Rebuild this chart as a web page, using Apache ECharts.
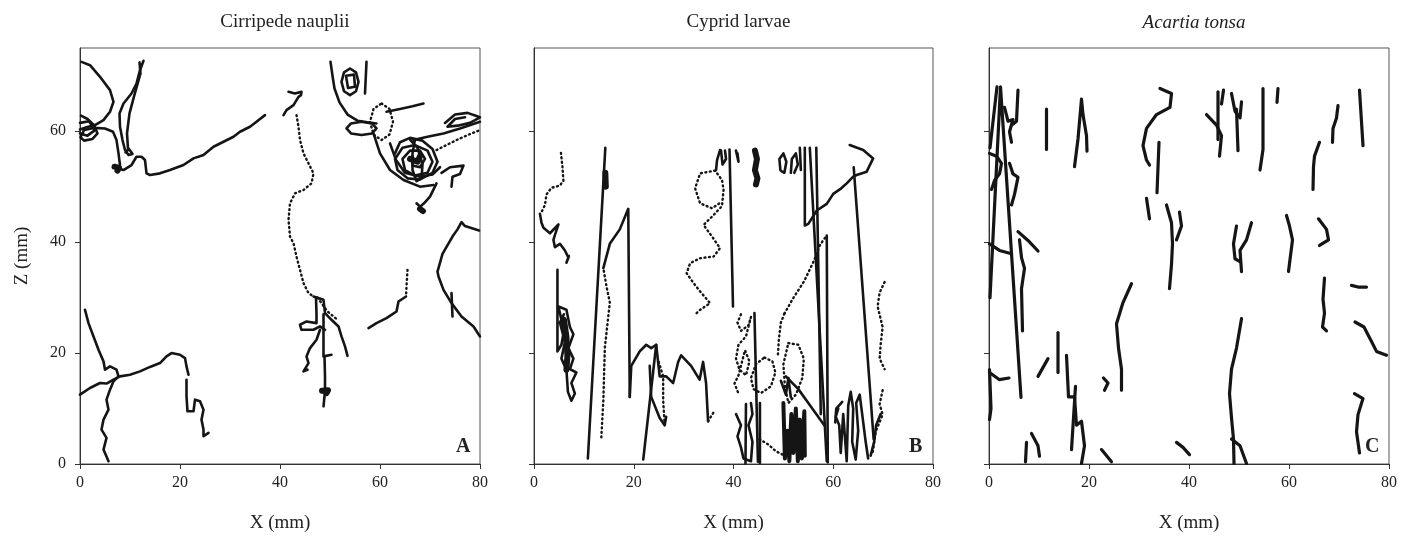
<!DOCTYPE html>
<html>
<head>
<meta charset="utf-8">
<style>
  html, body { margin: 0; padding: 0; background: #fff; }
  #main { width: 1410px; height: 546px; }
</style>
<script src="https://cdn.jsdelivr.net/npm/echarts@6/dist/echarts.min.js"></script>
</head>
<body>
<div id="main"></div>
<script>
// panel titles and axis ticks
var panelTitles = ['Cirripede nauplii', 'Cyprid larvae', 'Acartia tonsa'];
var panelLetters = ['A', 'B', 'C'];
var xTicks = [0, 20, 40, 60, 80];
var zTicks = [0, 20, 40, 60];

// A: cirripede nauplii tracks, [x mm, z mm]
var naupliiSolid = [
  [[0.3,72.5],[2,71.9],[4,69.8],[6,67.4],[6.7,65.3],[6,63.5],[4.7,62],[3,61.1],[1.3,60.7],[0,60.3]],
  [[0.2,62.8],[1.5,62.2],[2.8,61.1],[3.5,59.6],[2.5,58.6],[0.8,58.3],[0.1,58.9],[0.8,60.2],[2.8,60.6],[5,60.5],[6.6,59.9],[7.3,58.4],[7.7,56],[8,53.9],[7.5,53.3]],
  [[0,61.5],[1.8,61.8],[3,60.2],[1.5,59.2],[0,59.6]],
  [[7.5,53.3],[8.7,53],[10.3,53.9],[11.3,55.4],[12.3,55.4],[13,54.8],[13.3,52.4],[14,52.1],[16,52.4],[18,53],[20.7,53.9],[22.7,55.1],[24.7,55.7],[26.7,57.2],[28.7,58.1],[30.7,59],[32,59.9],[34,60.8],[35.3,61.7],[37,62.9]],
  [[12.7,72.7],[12,71],[11.3,68.6],[10.3,66.8],[8.7,65],[7.9,63.2],[8,60.8],[8.5,58.4],[9,56.6],[9.7,55.7],[10.5,55.9],[9.8,56.8],[9.1,56.2]],
  [[11.9,72.4],[12.1,70.4],[10.9,66.6],[9.9,63.2],[9.4,59.6],[9.6,56.8]],
  [[1,27.8],[1.7,25.4],[2.7,23],[3.7,20.6],[4.7,18.5],[5,17],[6,17.6],[7.3,17],[7.7,15.8],[6.7,14.9],[6,13.4],[5.3,11.6],[5.7,9.8],[4.7,8],[4.3,6.2],[5.3,4.7],[4.7,2.6],[5.7,0.5]],
  [[0,12.5],[2,13.7],[4,14.6],[5.3,14.5],[6.7,15.2],[8,15.8],[10,16.1],[12,16.7],[14,17.5],[16,18.2],[17.3,19.4],[18.3,20],[20,19.7],[21,19.1],[21.3,17.6],[21.7,16.1]],
  [[21.3,15.2],[21.3,12.2],[21.5,9.5],[22.7,9.5],[23,11.6],[24,11.3],[24.7,9.8],[24.3,8],[24.7,6.2],[24.7,5],[25.7,5.6]],
  [[41.7,67.1],[43,66.8],[44.3,67.1],[44.7,67.4],[44.2,66.5],[43.7,66.2],[42.7,64.7],[41.3,63.8],[40.7,62.9]],
  [[46.7,30.2],[48.7,29.6],[49,27.2],[50.3,26],[51.7,24.8],[52.3,23],[53,21.2],[53.5,19.5]],
  [[47.2,30],[47.3,27],[47.3,25.4],[45.3,25.7],[44,25.1],[44.3,24.2],[46.7,24.2],[48,24.8],[49,24.2]],
  [[48,24.2],[47.3,22.4],[46,20.9],[45.3,19.4],[45.7,18.2],[44.7,16.7],[45.5,17]],
  [[48.7,27],[48.7,23.6],[48.7,19.4],[50.3,19.7]],
  [[48.9,19.4],[49,15.8],[49,13.1],[48.7,10.4]],
  [[65.2,30.2],[63.7,29.3],[63.3,27.5],[61.3,26.3],[59.3,25.4],[57.7,24.5]],
  [[79.8,42.1],[77,42.9],[76.3,43.6],[75.5,42.3],[74.5,41],[72.5,37.9],[71.5,34.7],[71.7,33.8],[72.7,31.4],[74.3,29],[76.3,26.6],[78.7,24.8],[80,23]],
  [[74.3,30.8],[74.5,26.6]],
  [[50.1,72.5],[50.5,70],[50.9,67.7],[51.9,65.2],[53.5,63],[55.5,61.9],[57.5,61.6],[59.3,61.4]],
  [[54,71.3],[55.2,70.6],[55.7,68.9],[55.2,67.2],[54,66.5],[52.8,67.2],[52.3,68.9],[52.8,70.6],[54,71.3]],
  [[53.2,70],[54.8,70.2],[55,68],[53.6,67.8],[53.2,70]],
  [[57.3,72.5],[57,66.8]],
  [[53.3,60.5],[54.2,61.4],[56.3,61.7],[58.4,61.4],[59.3,60.5],[58.4,59.6],[56.3,59.3],[54.2,59.6],[53.3,60.5]],
  [[61.3,63.5],[64,64],[66.5,64.5],[68.7,65]],
  [[58.7,59.6],[60,56],[62,53],[64.7,51.2],[68,50],[70.7,50.3]],
  [[63,56],[64,58],[66,58.8],[68.5,58.3],[70.5,56.8],[71.5,54.5],[70.5,52.5],[68,51.3],[65.5,51.5],[63.5,53],[63,55],[64.5,57],[67,57.5],[69.5,56.5],[70.5,54.5],[69.5,52.5],[67,52],[65,53],[64.5,55],[66,56.5],[68,56.5],[69,55],[68,53.5],[66.5,53.8],[66.5,55.5]],
  [[66,58.5],[67.5,57],[68.5,54],[68.3,51.5],[67.3,51],[66.5,53],[66.5,56],[67,58.5]],
  [[62,57.8],[63.2,54.8],[65,52.5],[68,51.8],[70.5,52.2],[72,53.5]],
  [[73,61.5],[75,63],[77.5,63.3],[80,62.5],[78,61.5],[75.5,61],[73.5,60.8],[75,62.2],[77,62.5]],
  [[66.7,58.4],[69.5,59],[72.7,59.6],[76,60.5],[80,61.7]],
  [[72.3,52.5],[74,53.5],[76.7,53.8],[76,52.3],[74.5,51.8],[74.3,50]],
  [[71.3,50.6],[70,48.2],[68.8,47],[68,46.4],[67.3,47]]
];
var naupliiDotted = [
  [[43.3,62.9],[43.7,60.8],[44,58.4],[44.7,56],[45.7,54.2],[46.7,52.4],[46.3,50.6],[44.7,49.4],[43,48.8],[42,47],[41.7,44],[42,41],[42.7,39.8],[43.3,37.4],[44,35],[44.7,32.6],[45.7,30.8],[46.7,30.2]],
  [[47.5,30],[49.5,27.5],[51.5,26]],
  [[65.5,35],[65.3,32],[65.2,30.2]],
  [[60.3,65],[61.9,64],[62.6,61.7],[61.9,59.4],[60.3,58.4],[58.7,59.4],[58,61.7],[58.7,64],[60.3,65]],
  [[71.3,56.6],[73.3,57.5],[75.3,58.4],[77.5,59.3],[80,60.2]]
];
var naupliiBlobs = [
  [[6.9,53.6],[7.8,53.4],[7.5,52.9]],
  [[48.4,13.2],[49.6,13.3],[49.3,12.8]],
  [[68,46],[68.6,45.6]],
  [[66,55],[67.5,54.5],[68,55.5]]
];

// B: cyprid larvae tracks
var cypridSolid = [
  [[1.2,45.1],[1.5,43.5],[1.9,42.6],[3.2,41.6],[4.9,43.2],[4.2,41.3],[3.9,40.4],[4.2,39.1],[5.2,39.7],[6.2,38.5],[6.9,37.2],[6.5,36.3],[7,37.5]],
  [[4.7,35],[4.7,27],[4.7,20.3],[5.5,21.5],[6,24],[4.9,28.4],[6.5,27.8],[7.2,24.7],[7.9,23.4],[6.9,20.9],[7.9,19],[7.2,17.1],[8.5,16.5],[7.5,14.6],[8.2,12.7],[7.5,11.4],[6.8,13],[6.5,17],[5.5,19],[6.2,22],[5.2,25.5],[6,27]],
  [[10.8,1],[14.3,57]],
  [[13.9,35.3],[15.2,39.7],[17.2,42.3],[18.9,46],[19.2,12.1]],
  [[19.2,12.1],[19.5,17.7],[21.2,20.3],[22.5,21.5],[23.5,20.9],[24.5,21.5],[25.2,15.8],[26.5,15.8],[27.9,14.6],[28.9,18.4],[29.5,19.6],[31.5,17.7],[33.2,15.2],[33.9,18.4],[34.5,14.6],[34.9,7.7]],
  [[21.9,0.8],[24.5,21.5]],
  [[23.2,17.7],[23.5,12.1],[25.2,8.3],[26.2,7],[26.5,8.5]],
  [[36.5,53],[36.7,54.8],[37.3,56.6]],
  [[39.2,56.7],[39.9,28.4]],
  [[37.5,56.5],[37.8,54],[38.5,55],[38.3,56.5]],
  [[40.5,56.5],[41,54.5],[40.8,56]],
  [[49.4,53],[49.2,55],[50,56],[50.6,54.5],[50.2,52.5],[49.6,52.8]],
  [[51.5,52.5],[51.7,55],[52.5,56],[52.9,54],[52.2,52.5]],
  [[53.3,57],[53.5,53]],
  [[54.3,57],[54.3,43],[55,43.3],[56.7,45.7],[58.7,46.9],[60,48.7],[61.6,49.7],[62.7,50.6],[64,51.8],[64.7,52.1],[66.7,52.7],[68,55.1],[66,56.6],[63.3,57.5]],
  [[55.3,57],[58.7,0.5]],
  [[56.6,57],[57.5,9]],
  [[58.7,41.2],[58.9,0.3]],
  [[64.1,53.5],[68.1,4.5]],
  [[69.5,9],[68.6,7],[68.2,4],[67.5,1.5]],
  [[44.2,27.2],[44.9,0.4]],
  [[42.5,10.8],[42.4,0.1]],
  [[45.3,11],[45.3,0.2]],
  [[40.5,9],[41.5,7],[40.8,5],[41.5,3],[42,1],[43.5,0.5],[43.8,4],[43,7],[43.8,9],[43.5,11]],
  [[49.5,15],[50.5,12.5],[51,15.5],[51.5,12]],
  [[50.5,15.8],[53,13.5],[55,11],[58.2,7]],
  [[61.8,11.2],[60.6,10],[60.4,7.5]],
  [[61,10],[60.5,8.5],[61.2,7],[61.5,2],[62,9],[62.7,0.5],[63,10.5],[63.5,13],[64,10],[63.8,4],[64.5,0.8],[65,6],[64.6,11],[65.3,12.5],[65.8,9],[66.5,4],[67,1]]
];
var cypridDotted = [
  [[5.4,56.1],[5.7,53.6],[5.9,51.1],[5.2,50.2],[3.5,49.8],[2.5,48.6],[2.2,46.7],[1.5,45.4]],
  [[13.5,4.8],[13.9,11.4],[14.2,20.9],[15.2,29.1],[14.5,32.2],[13.9,35.3]],
  [[34.9,7.7],[36.2,9.6]],
  [[26.2,7],[25.9,11.4],[25.9,15.8],[24.8,19]],
  [[32.6,27.2],[33.3,27.8],[35.3,29],[33.6,30.8],[32,32.6],[30.6,34.4],[31.3,36.2],[33.3,37.1],[36,37.4],[37.3,38.9],[35.7,41],[34,43.1],[35.7,44.6],[37.7,46.5],[38,49.4],[37.7,51.2],[36.3,52.9],[33.3,52.4],[32.3,49.7],[33.3,47],[35.7,46.1],[37.7,47.3]],
  [[50.2,27.1],[51.9,29.8],[54.2,33],[56.2,36.8],[57.4,39.6],[58.7,41.2]],
  [[50.2,27.1],[49.5,25.5],[49.1,22.5],[48.9,19.6]],
  [[70.3,32.8],[69.3,30.9],[68.9,28.4],[69.9,24.7],[69.5,21.5],[69.3,19],[70.3,17.1]],
  [[69.9,13.3],[69.3,10.8],[69.9,8.9],[68.5,5.8],[67.9,2]],
  [[41.5,27],[40.8,25.5],[41.5,24],[43,25],[43.5,26.5],[42.5,23],[41,21.5],[40.5,19],[41.2,17],[42.5,16],[43.2,18.5],[42.3,20.5],[41,16],[40.2,14.5],[41,12.7]],
  [[46.2,19.2],[47.8,18.5],[48.4,16.5],[47.5,14],[45.5,12.8],[44,13.5],[43.5,15.5],[44.5,18],[46.2,19.2]],
  [[51,21.8],[53,21.5],[54.1,19],[53.8,15.5],[52.5,12.5],[51,11],[50.3,14],[50,18],[51,21.8]],
  [[45.2,4.5],[47,3.5],[48.5,2.3],[50.5,1.4]]
];
var cypridBlobs = [
  [[14.3,52.5],[14.4,50]],
  [[44.3,56.5],[44.7,55],[44.3,53],[44.8,51.5],[44.5,50.4]],
  [[6,26],[6.5,23],[6.7,19.5],[6.5,17]]
];
var cypridDense = [
  [[50,11],[50.3,1],[50.8,6],[51.2,0.5],[51.6,9],[52,2],[52.5,10],[52.9,0.5],[53.3,8],[53.7,1],[54.2,9.5],[54.3,1.5]]
];

// C: Acartia tonsa tracks
var acartiaSolid = [
  [[1.6,68],[0.2,57]],
  [[0.2,30],[2.3,68],[6.4,12]],
  [[0.1,56],[1.5,55.5],[2.5,54.2],[2.1,52.3],[1.1,51.1],[0.5,49.5]],
  [[3.1,64.3],[3.8,61.8],[4.8,62.1],[4.1,59.9],[4.5,58]],
  [[5.8,67.4],[5.5,61.8],[4.7,61.2]],
  [[4.1,54.2],[4.8,52.3],[5.8,51.7],[5.1,48.6],[4.5,46.7]],
  [[11.5,64],[11.5,56.7]],
  [[17.1,53.6],[17.8,58.6],[18.5,65.8],[18.8,63],[19.5,59.2],[19.6,56.4]],
  [[34.2,67.7],[36.5,66.8],[36.2,64.3],[33.5,63],[31.5,60.5],[30.8,57.4],[31.5,54.8],[32.1,53.9]],
  [[34,58],[33.6,48.9]],
  [[31.5,47.9],[32.1,44.2]],
  [[35.5,46.7],[36.5,43.5],[36.7,39.7],[36.5,36],[36.1,31.6]],
  [[38.1,45.4],[38.5,42.9],[37.5,40.4]],
  [[43.5,63],[45.5,61.1],[46.5,59.2],[46.1,55.5]],
  [[45.8,67.1],[45.8,58.5]],
  [[46.9,67.4],[46.5,64.9]],
  [[48.5,66.8],[49.2,63.6],[50.2,62.4],[50.5,65.3]],
  [[49.5,64],[49.8,56.5]],
  [[54.8,67.7],[54.8,56.7],[54.2,53]],
  [[57.8,67.7],[57.6,65.2]],
  [[69.8,64.6],[69.5,62.4],[68.8,60.5],[68.7,58]],
  [[74.1,67.4],[74.8,57.4]],
  [[66.1,58],[65.1,55.5],[64.9,53.6],[64.8,49.5]],
  [[59.5,44.8],[60.1,42.9],[60.7,40.4],[59.9,34.7]],
  [[65.9,44.2],[67.5,42.3],[67.9,40.4],[66.1,39.4]],
  [[52.5,43.5],[51.5,40.4],[50.2,38.5],[50.5,34.7]],
  [[49.5,42.9],[48.9,39.7],[49.2,37],[50.2,36.5]],
  [[5.8,41.9],[7.8,40.3],[9.8,38.4]],
  [[6.1,40.4],[6.5,37.2],[7.1,35.3],[6.5,31.6],[6.7,24]],
  [[0.1,39.7],[2.1,38.5],[4.5,37.9]],
  [[28.5,32.5],[26.8,29.1],[25.5,25.3],[25.9,20.9],[26.5,17.1],[26.5,13.3]],
  [[67.1,33.5],[66.8,29.7],[67.1,27.2],[66.7,24.7],[67.5,24]],
  [[72.5,32.2],[73.8,31.9],[75.5,31.9]],
  [[73.2,25.6],[75,24.7],[76.5,22.1],[77.5,20.3],[79.5,19.6]],
  [[73.1,12.7],[74.8,11.8],[73.8,8.9],[73.5,5.8],[74.1,2]],
  [[50.5,26.2],[49.5,20.9],[48.5,17.1],[48.1,12.7],[48.5,8.3],[48.9,4.5],[49,0.1]],
  [[48.5,4.5],[50.2,3.3],[51.5,0.1]],
  [[0.1,16.5],[2.1,15.2],[4,15.5]],
  [[0.1,17],[0.4,10],[0.1,8]],
  [[9.8,15.8],[11.8,19]],
  [[13.8,23.7],[13.8,16.5]],
  [[15.5,19.6],[15.9,12.1],[17.1,12.1],[17.5,7],[18.5,7.7],[19.1,3.3],[18.5,0.1]],
  [[17.3,14],[16.5,2.6]],
  [[22.9,15.5],[23.8,14.6],[23.1,13.3]],
  [[7.5,3.9],[7.3,0.4]],
  [[8.5,5.5],[9.8,3.3],[10.1,1.4]],
  [[22.5,2.6],[24.5,0.4]],
  [[37.5,3.9],[38.8,3],[40.1,1.7]]
];

var serif = '"Liberation Serif", "Times New Roman", serif';
var ink = '#151515';
var gridLefts = [80, 534, 989];
var gridWidths = [400, 399, 400];

var myChart = echarts.init(document.getElementById('main'));

var grids = [], xAxes = [], yAxes = [], titles = [], letters = [], series = [];

for (var i = 0; i < 3; i++) {
  grids.push({
    left: gridLefts[i], top: 48, width: gridWidths[i], height: 416,
    show: true, borderColor: '#555', borderWidth: 1, backgroundColor: 'transparent'
  });
  xAxes.push({
    gridIndex: i, type: 'value', min: 0, max: 80, interval: 20,
    axisLine: { show: true, onZero: false, lineStyle: { color: '#333', width: 1 } },
    axisTick: { show: true, length: 5, lineStyle: { color: '#333' } },
    splitLine: { show: false },
    axisLabel: { fontFamily: serif, fontSize: 16, color: '#222', margin: 11,
      customValues: xTicks },
    name: 'X (mm)', nameLocation: 'middle', nameGap: 50,
    nameTextStyle: { fontFamily: serif, fontSize: 19, color: '#222' }
  });
  yAxes.push({
    gridIndex: i, type: 'value', min: 0, max: 75,
    axisLine: { show: true, onZero: false, lineStyle: { color: '#333', width: 1 } },
    axisTick: { show: true, length: 5, lineStyle: { color: '#333' }, customValues: zTicks },
    splitLine: { show: false },
    axisLabel: { show: i === 0, fontFamily: serif, fontSize: 16, color: '#222', margin: 14,
      customValues: zTicks },
    name: i === 0 ? 'Z (mm)' : '', nameLocation: 'middle', nameGap: 48,
    nameTextStyle: { fontFamily: serif, fontSize: 19, color: '#222' }
  });
  titles.push({
    text: panelTitles[i],
    left: gridLefts[i] + gridWidths[i] / 2, top: 8, textAlign: 'center',
    textStyle: { fontFamily: serif, fontSize: 19, fontWeight: 'normal', color: '#222',
      fontStyle: i === 2 ? 'italic' : 'normal' }
  });
  letters.push({
    type: 'text',
    left: gridLefts[i] + gridWidths[i] - 24, top: 437,
    style: { text: panelLetters[i], font: 'bold 20px ' + serif, fill: '#222' }
  });
}

function addTracks(list, panel, style) {
  list.forEach(function (t) {
    series.push({
      type: 'line', xAxisIndex: panel, yAxisIndex: panel,
      data: t, showSymbol: false, silent: true, clip: true,
      lineStyle: style
    });
  });
}

var solid = { color: ink, width: 2.6, cap: 'round', join: 'round' };
var solidC = { color: ink, width: 3.2, cap: 'round', join: 'round' };
var dotted = { color: ink, width: 2.4, type: [1, 3.5], cap: 'round', join: 'round' };
var blob = { color: ink, width: 6, cap: 'round', join: 'round' };
var dense = { color: ink, width: 4, cap: 'round', join: 'round' };

addTracks(naupliiSolid, 0, solid);
addTracks(naupliiDotted, 0, dotted);
addTracks(naupliiBlobs, 0, blob);
addTracks(cypridSolid, 1, solid);
addTracks(cypridDotted, 1, dotted);
addTracks(cypridBlobs, 1, blob);
addTracks(cypridDense, 1, dense);
addTracks(acartiaSolid, 2, solidC);

var option = {
  animation: false,
  backgroundColor: '#fff',
  title: titles,
  grid: grids,
  xAxis: xAxes,
  yAxis: yAxes,
  graphic: letters,
  series: series
};

myChart.setOption(option);
window.addEventListener('resize', function () {
  myChart && myChart.resize();
});
</script>
</body>
</html>
